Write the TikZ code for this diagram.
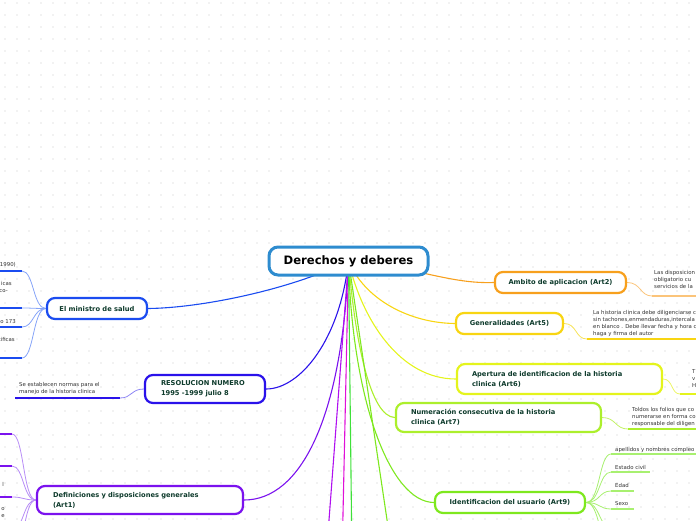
\documentclass[tikz,border=0pt]{standalone}
\usepackage{fontspec}
\setmainfont{DejaVu Sans}
\usetikzlibrary{backgrounds}
\definecolor{txtc}{HTML}{0E3B2C}
\definecolor{leaftxt}{HTML}{333333}
\definecolor{dotc}{HTML}{E4E4E4}
\definecolor{cblue}{HTML}{2E8CCF}
\definecolor{corange}{HTML}{F7A01D}
\definecolor{lorange}{HTML}{FBC47A}
\definecolor{cyellow}{HTML}{F8D512}
\definecolor{lyellow}{HTML}{F6E35A}
\definecolor{capert}{HTML}{E4F41C}
\definecolor{lapert}{HTML}{ECF566}
\definecolor{cnum}{HTML}{ACEF2C}
\definecolor{lnum}{HTML}{C4F26A}
\definecolor{cident}{HTML}{7EE81E}
\definecolor{lident}{HTML}{A8F070}
\definecolor{cmin}{HTML}{1B4CF0}
\definecolor{lmin}{HTML}{86A4F8}
\definecolor{cres}{HTML}{2A12EA}
\definecolor{lres}{HTML}{8C84F4}
\definecolor{cdef}{HTML}{7B12EE}
\definecolor{ldef}{HTML}{B78CF6}
\definecolor{cmag}{HTML}{E010D8}
\definecolor{cmag2}{HTML}{B010F0}
\definecolor{cgreen}{HTML}{3FE03A}
\begin{document}
\begin{tikzpicture}[x=1pt,y=-1pt,
  mnode/.style={draw=#1, fill=white, line width=2.2pt, rounded corners=8pt,
    text=txtc, font=\fontsize{6.7}{10}\selectfont\bfseries, inner sep=0pt},
  leaf/.style={text=leaftxt, font=\fontsize{5.4}{7}\selectfont, inner sep=0pt, align=left},
  conn/.style={draw=#1, line width=1.1pt},
  lconn/.style={draw=#1, line width=0.8pt},
  uline/.style={draw=#1, line width=2.4pt}]
\useasboundingbox (0,0) rectangle (696,520);

% main nodes
\node[draw=cblue, fill=white, line width=3pt, rounded corners=9pt, minimum width=159pt,
  minimum height=28pt, inner sep=0pt, font=\fontsize{11.6}{13}\selectfont\bfseries]
  (c) at (348.5,261) {Derechos y deberes};
\node[mnode=corange, minimum width=131pt, minimum height=21pt] (amb) at (560.5,282.5) {Ambito de aplicacion (Art2)};
\node[mnode=cyellow, minimum width=107pt, minimum height=21pt] (gen) at (509.5,323.5) {Generalidades (Art5)};
\node[mnode=capert, minimum width=205pt, minimum height=30pt, text width=175pt, align=left] (ape) at (559.5,379) {Apertura de identificacion de la historia\\clinica (Art6)};
\node[mnode=cnum, minimum width=205pt, minimum height=29pt, text width=175pt, align=left] (num) at (498.5,417.5) {Numeración consecutiva de la historia\\clinica (Art7)};
\node[mnode=cident, minimum width=150pt, minimum height=21pt] (ide) at (510,502.5) {Identificacion del usuario (Art9)};
\node[mnode=cmin, minimum width=100pt, minimum height=21pt] (min) at (97,308.5) {El ministro de salud};
\node[mnode=cres, minimum width=120pt, minimum height=28pt, text width=88pt, align=left] (res) at (205,389) {RESOLUCION NUMERO\\1995 -1999 julio 8};
\node[mnode=cdef, minimum width=206pt, minimum height=28pt, text width=174pt, align=left] (def) at (140,500) {Definiciones y disposiciones generales\\(Art1)};

% leaf texts
\node[leaf, anchor=north west] (ambL) at (654,270) {Las disposicion\\obligatorio cu\\servicios de la};
\node[leaf, anchor=north west] (genL) at (593,310) {La historia clinica debe diligenciarse c\\sin tachones,enmendaduras,intercala\\en blanco . Debe llevar fecha y hora c\\haga y firma del autor};
\node[leaf, anchor=north west] (apeL) at (692,369) {T\\v\\H};
\node[leaf, anchor=north west] (numL) at (632,407) {Toldos los folios que co\\numerarse en forma co\\responsable del diligen};
\node[leaf, anchor=base west] (id1) at (615,451) {apellidos y nombres compleo};
\node[leaf, anchor=base west] (id2) at (615,469) {Estado civil};
\node[leaf, anchor=base west] (id3) at (615,487) {Edad};
\node[leaf, anchor=base west] (id4) at (615,505) {Sexo};
\node[leaf, anchor=north west] (resL) at (19,382) {Se establecen normas para el\\manejo de la historia clinica};
\node[leaf, anchor=base east] (mi1) at (16,266) {1990)};
\node[leaf, anchor=base east] (mi2a) at (12,285) {icas};
\node[leaf, anchor=base east] (mi2b) at (8,292) {co-};
\node[leaf, anchor=base east] (mi3) at (16,323) {io 173};
\node[leaf, anchor=base east] (mi4) at (15,341) {tificas};
\node[leaf, anchor=base east] (de1) at (4,486) {l};
\node[leaf, anchor=base east] (de2) at (5,510) {o};
\node[leaf, anchor=base east] (de3) at (5,517) {e};

% underline coordinates
\coordinate (ambU) at (652,296);
\coordinate (genU) at (587,339);
\coordinate (apeU) at (680,394);
\coordinate (numU) at (628,429);
\coordinate (idU1) at (611,454);
\coordinate (idU2) at (611,472);
\coordinate (idU3) at (611,491);
\coordinate (idU4) at (611,509);
\coordinate (idU5) at (611,528);
\coordinate (idU6) at (611,547);
\coordinate (resU) at (120,398);
\coordinate (miU1) at (22,271);
\coordinate (miU2) at (22,308);
\coordinate (miU3) at (22,327);
\coordinate (miU4) at (22,358);
\coordinate (deU1) at (12,434);
\coordinate (deU2) at (12,466);
\coordinate (deU3) at (12,497);
\coordinate (deU4) at (12,530);
\coordinate (deU5) at (12,560);
\coordinate (m1) at (326,560);
\coordinate (m2) at (342,560);
\coordinate (g1) at (352,560);
\coordinate (g2) at (393,560);

\begin{scope}[on background layer]
  \foreach \i in {0,...,58}{\foreach \j in {0,...,44}{
    \fill[dotc] (\i*12+5,\j*12+3) circle (0.8pt);}}
  % main connectors
  \draw[conn=corange] (c.center) .. controls (420,268) and (450,284) .. (amb.west);
  \draw[conn=cyellow] (c.center) .. controls (365,300) and (410,323) .. (gen.west);
  \draw[conn=capert] (c.center) .. controls (362,320) and (400,379) .. (ape.west);
  \draw[conn=cnum] (c.center) .. controls (355,340) and (370,417) .. (num.west);
  \draw[conn=cident] (c.center) .. controls (352,400) and (390,502) .. (ide.west);
  \draw[conn=cmin] (c.center) .. controls (290,290) and (200,308) .. (min.east);
  \draw[conn=cres] (c.center) .. controls (340,340) and (300,389) .. (res.east);
  \draw[conn=cdef] (c.center) .. controls (342,420) and (300,500) .. (def.east);
  \draw[conn=cmag2] (c.center) -- (m1);
  \draw[conn=cmag] (c.center) -- (m2);
  \draw[conn=cgreen] (c.center) -- (g1);
  \draw[conn=cident] (c.center) -- (g2);
  % leaf connectors
  \draw[lconn=lorange] (amb.east) .. controls +(14,0) and +(-12,0) .. (ambU);
  \draw[lconn=lyellow] (gen.east) .. controls +(13,0) and +(-12,0) .. (genU);
  \draw[lconn=lapert] (ape.east) .. controls +(10,0) and +(-9,0) .. (apeU);
  \draw[lconn=lnum] (num.east) .. controls +(14,0) and +(-13,0) .. (numU);
  \foreach \k in {1,...,6}{
    \draw[lconn=lident] (ide.east) .. controls +(14,0) and +(-12,0) .. (idU\k);}
  \draw[lconn=lres] (res.west) .. controls +(-13,0) and +(12,0) .. (resU);
  \foreach \k in {1,...,4}{
    \draw[lconn=lmin] (min.west) .. controls +(-13,0) and +(12,0) .. (miU\k);}
  \foreach \k in {1,...,5}{
    \draw[lconn=ldef] (def.west) .. controls +(-13,0) and +(12,0) .. (deU\k);}
  % underlines
  \draw[uline=lorange] (ambU) -- ++(60,0);
  \draw[uline=cyellow] (genU) -- ++(120,0);
  \draw[uline=capert] (apeU) -- ++(30,0);
  \draw[uline=cnum] (numU) -- ++(80,0);
  \draw[uline=lident] (idU1) -- ++(95,0);
  \draw[uline=lident] (idU2) -- ++(39,0);
  \draw[uline=lident] (idU3) -- ++(23,0);
  \draw[uline=lident] (idU4) -- ++(23,0);
  \draw[uline=cres] (resU) -- ++(-105,0);
  \foreach \k in {1,...,4}{\draw[uline=cmin] (miU\k) -- ++(-40,0);}
  \foreach \k in {1,...,3}{\draw[uline=cdef] (deU\k) -- ++(-30,0);}
\end{scope}
\end{tikzpicture}
\end{document}
